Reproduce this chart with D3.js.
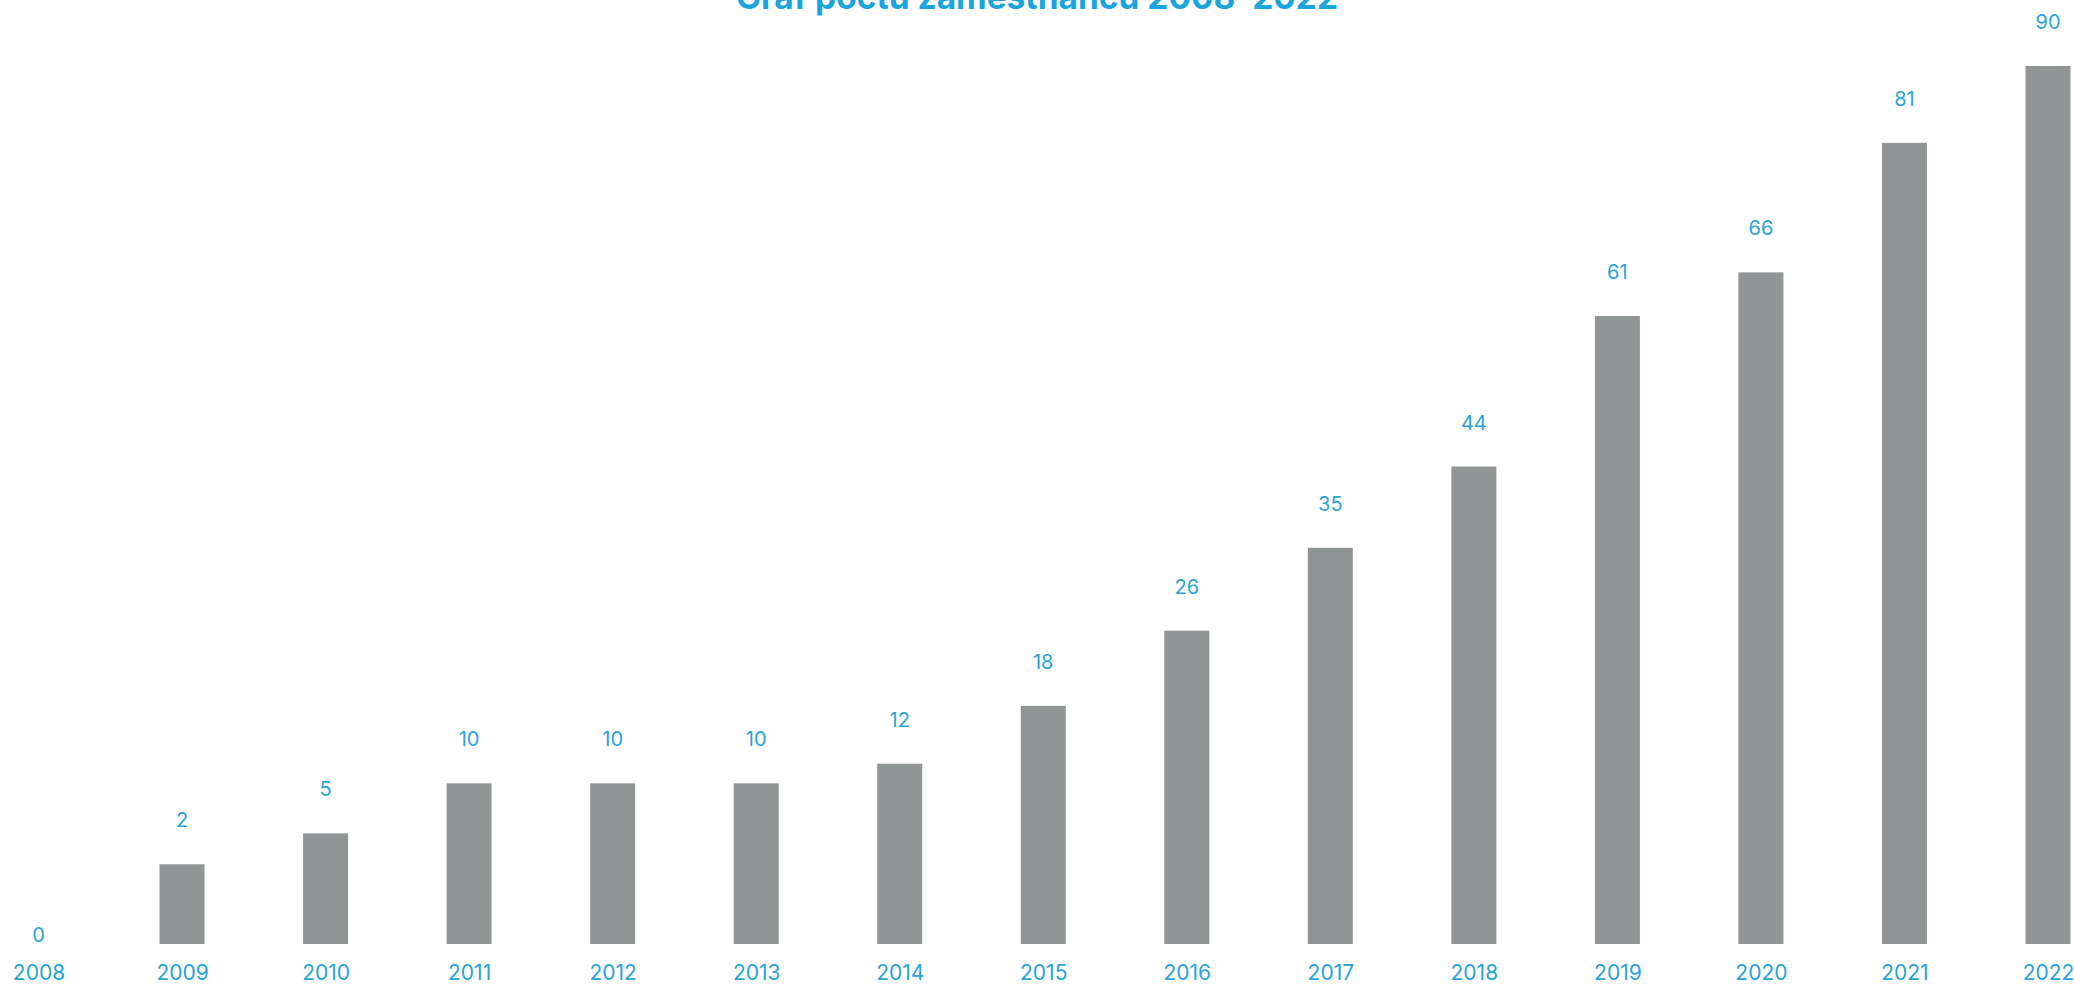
<!DOCTYPE html>
<html>
<head>
<meta charset="utf-8">
<script src="https://cdn.jsdelivr.net/npm/d3@7"></script>
<style>
  body { margin: 0; background: #fff; }
  svg { display: block; font-family: Inter, "DejaVu Sans", sans-serif; }
</style>
</head>
<body>
<svg id="chart"></svg>
<script>
// data
const title = 'Graf počtu zaměstnanců 2008–2022';
const years = ['2008', '2009', '2010', '2011', '2012', '2013', '2014', '2015',
  '2016', '2017', '2018', '2019', '2020', '2021', '2022'];
const employees = [0, 2, 5, 10, 10, 10, 12, 18, 26, 35, 44, 61, 66, 81, 90];

const width = 2074;
const height = 985;
const baseY = 944;
const topY = 66;
const barWidth = 45;
const blue = '#2aa3dc';
const grey = '#929596';

const svg = d3.select('#chart')
  .attr('width', width)
  .attr('height', height);

const x = d3.scalePoint()
  .domain(years)
  .range([38.5, 2048]);

// bars in the original start from a small stub, so the scale is shifted a bit
const stub = 5;
const y = d3.scalePow()
  .exponent(0.92)
  .domain([0, d3.max(employees) + stub])
  .range([baseY, topY]);

const data = years.map((year, i) => ({ year, value: employees[i] }));

// title (cut off at top like the original)
svg.append('text')
  .attr('x', width / 2)
  .attr('y', 9)
  .attr('text-anchor', 'middle')
  .style('font-size', '33.5px')
  .style('font-weight', 700)
  .style('fill', '#1aa5de')
  .text(title);

// bars
svg.selectAll('rect.bar')
  .data(data.filter(d => d.value > 0))
  .enter()
  .append('rect')
  .attr('class', 'bar')
  .attr('x', d => x(d.year) - barWidth / 2)
  .attr('y', d => y(d.value + stub))
  .attr('width', barWidth)
  .attr('height', d => baseY - y(d.value + stub))
  .attr('fill', grey);

// value labels
svg.selectAll('text.value')
  .data(data)
  .enter()
  .append('text')
  .attr('class', 'value')
  .attr('x', d => x(d.year))
  .attr('y', d => d.value > 0 ? y(d.value + stub) - 37 : baseY - 2)
  .attr('text-anchor', 'middle')
  .style('font-size', '20px')
  .style('fill', blue)
  .text(d => d.value);

// year axis
const axis = svg.append('g')
  .attr('transform', `translate(0, ${baseY})`)
  .call(d3.axisBottom(x).tickSize(0).tickPadding(0));

axis.select('.domain').remove();
axis.selectAll('text')
  .attr('dy', null)
  .attr('y', 36)
  .style('font-size', '21px')
  .style('font-family', 'Inter, "DejaVu Sans", sans-serif')
  .style('fill', blue);
</script>
</body>
</html>
